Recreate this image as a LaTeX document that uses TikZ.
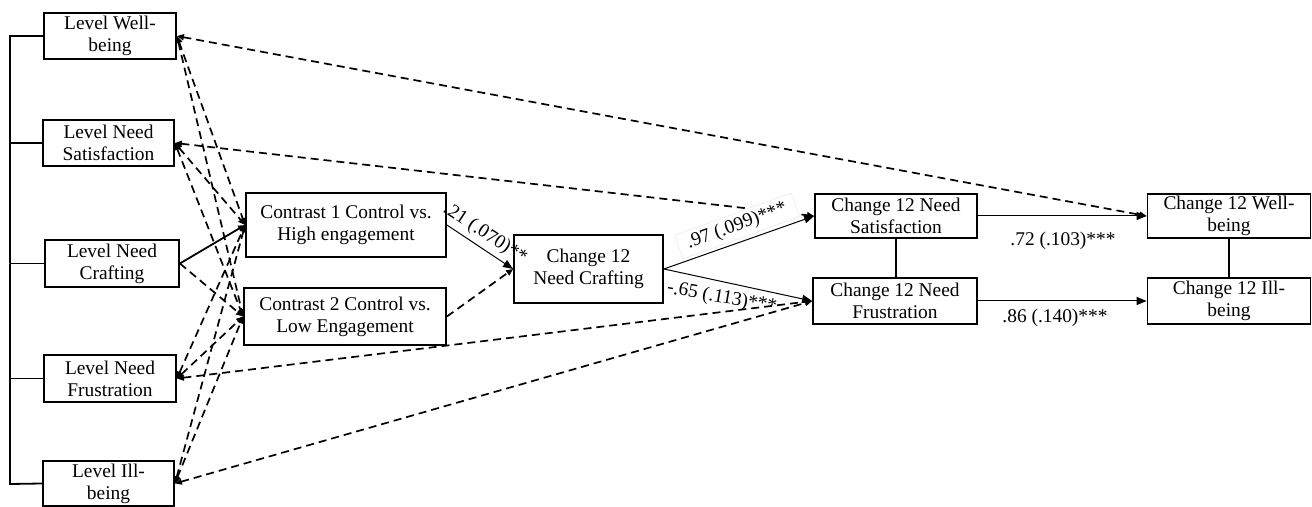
\documentclass[tikz,border=0pt]{standalone}
\usepackage{fontspec}
\setmainfont{Liberation Serif}
\usetikzlibrary{arrows.meta}
\newcommand\figfont{\fontsize{9.7}{11}\selectfont}
\begin{document}
\begin{tikzpicture}[x=0.5pt,y=-0.5pt,
  box/.style={draw, line width=0.9pt, align=center, inner sep=0pt, font=\figfont, fill=white},
  dline/.style={dash pattern=on 4pt off 2.5pt, line width=0.85pt, {Triangle[length=3.5pt,width=3pt]}-{Triangle[length=3.5pt,width=3pt]}},
  dlineone/.style={dash pattern=on 4pt off 2.5pt, line width=0.85pt, -{Triangle[length=3.5pt,width=3pt]}},
  sarrow/.style={line width=0.5pt, -{Triangle[length=5pt,width=4pt]}},
  plain/.style={line width=0.6pt},
  lab/.style={font=\figfont, inner sep=0pt},
]
\useasboundingbox (0,0) rectangle (1312,507);

% boxes
\node[box, minimum width=66pt, minimum height=23pt] (lwb) at (110,36) {Level Well-\\being};
\node[box, minimum width=65.5pt, minimum height=23pt] (lns) at (108.5,143) {Level Need\\Satisfaction};
\node[box, minimum width=67pt, minimum height=23.5pt] (lnc) at (112,263.5) {Level Need\\Crafting};
\node[box, minimum width=66pt, minimum height=23.5pt] (lnf) at (110,378.5) {Level Need\\Frustration};
\node[box, minimum width=65.5pt, minimum height=22.5pt] (lib) at (108.5,483.5) {Level Ill-\\being};
\node[box, minimum width=100pt, minimum height=32pt] (c1) at (346,225) {Contrast 1 Control vs.\\High engagement};
\node[box, minimum width=101pt, minimum height=28.5pt] (c2) at (345,316.5) {Contrast 2 Control vs.\\Low Engagement};
\node[box, minimum width=74.5pt, minimum height=34pt] (cnc) at (588.5,269) {Change 12\\Need Crafting};
\node[box, minimum width=81pt, minimum height=22pt] (c12ns) at (896,216) {Change 12 Need\\Satisfaction};
\node[box, minimum width=82pt, minimum height=23pt] (c12nf) at (895,301) {Change 12 Need\\Frustration};
\node[box, minimum width=81.5pt, minimum height=22pt] (c12wb) at (1229,216) {Change 12 Well-\\being};
\node[box, minimum width=81.5pt, minimum height=23pt] (c12ib) at (1229,301) {Change 12 Ill-\\being};

% left bracket
\coordinate (bt) at (10,36);
\coordinate (bm) at (10,263.5);
\coordinate (bb) at (10,484);
\draw[plain] (lwb.west) -- (bt) -- (bm);
\draw[line width=0.9pt] (bm) -- (bb) -- (lib.west);
\draw[plain] (lns.west) -- (lns.west -| bt);
\draw[plain] (lnc.west) -- (lnc.west -| bt);
\draw[plain] (lnf.west) -- (lnf.west -| bt);

% level <-> contrast
\foreach \L in {lwb,lns,lnf,lib} {
  \draw[dline] (\L.east) -- (c1.west);
  \draw[dline] (\L.east) -- (c2.west);
}
\draw[line width=0.9pt, -{Triangle[length=3.5pt,width=3pt]}] (lnc.east) -- (c1.west);
\draw[dlineone] (lnc.east) -- (c2.west);

% long dashed paths
\draw[dline] (lwb.east) -- (c12wb.west);
\draw[dline] (lns.east) -- (c12ns.west);
\draw[dline] (lnf.east) -- (c12nf.west);
\draw[dline] (lib.east) -- (c12nf.west);
\draw[dlineone] (c2.east) -- (cnc.west);

% label with white box
\node[lab, rotate=20, fill=white, draw=black!8, line width=0.3pt, minimum width=62pt, minimum height=12.5pt] (l97) at (737,226) {.97 (.099)***};

% solid paths
\draw[sarrow] (c1.east) -- (cnc.west);
\draw[sarrow] (cnc.east) -- (c12ns.west);
\draw[sarrow] (cnc.east) -- (c12nf.west);
\draw[sarrow] (c12ns.east) -- (c12wb.west);
\draw[sarrow] (c12nf.east) -- (c12ib.west);
\draw[plain] (c12ns.south) -- (c12ns.south |- c12nf.north);
\draw[plain] (c12wb.south) -- (c12ib.north);

% labels
\node[lab, rotate=-33] (l21) at (485,234) {.21 (.070)**};
\node[lab, rotate=-10] (l65) at (722,298) {-.65 (.113)***};
\node[lab] (l72) at (1063,241) {.72 (.103)***};
\node[lab] (l86) at (1055,318) {.86 (.140)***};
\end{tikzpicture}
\end{document}
